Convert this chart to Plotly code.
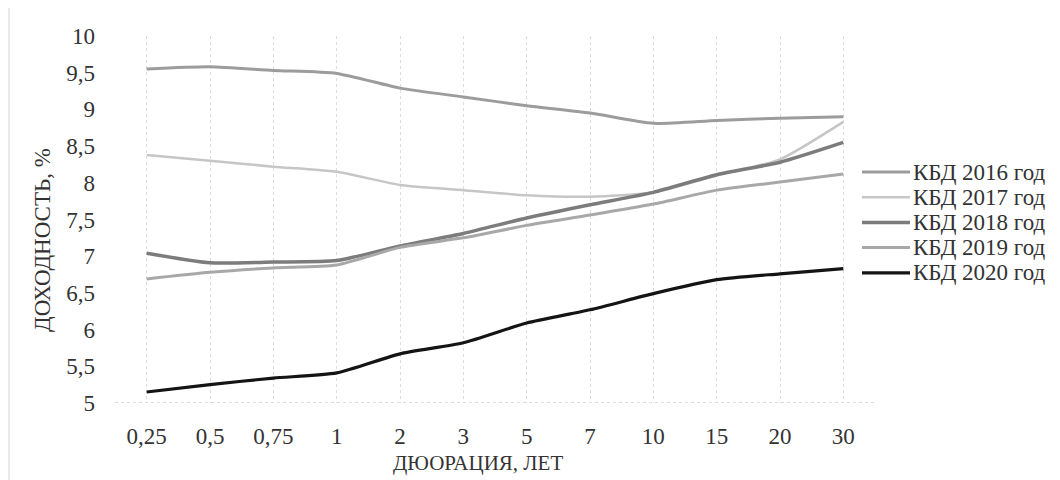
import plotly.graph_objects as go

durations = ["0,25", "0,5", "0,75", "1", "2", "3", "5", "7", "10", "15", "20", "30"]
kbd_2016 = [9.55, 9.58, 9.53, 9.49, 9.29, 9.17, 9.05, 8.95, 8.81, 8.85, 8.88, 8.90]
kbd_2017 = [8.38, 8.30, 8.22, 8.15, 7.97, 7.90, 7.83, 7.81, 7.87, 8.10, 8.32, 8.83]
kbd_2018 = [7.04, 6.91, 6.92, 6.94, 7.14, 7.31, 7.52, 7.70, 7.87, 8.11, 8.28, 8.55]
kbd_2019 = [6.69, 6.78, 6.84, 6.88, 7.12, 7.25, 7.42, 7.56, 7.71, 7.90, 8.01, 8.12]
kbd_2020 = [5.15, 5.25, 5.34, 5.41, 5.67, 5.82, 6.09, 6.27, 6.49, 6.68, 6.76, 6.83]

series_names = ["КБД 2016 год", "КБД 2017 год", "КБД 2018 год", "КБД 2019 год", "КБД 2020 год"]
series_values = [kbd_2016, kbd_2017, kbd_2018, kbd_2019, kbd_2020]
colors = ["#9c9c9c", "#c6c6c6", "#7c7c7c", "#a8a8a8", "#141414"]
widths = [3, 2.5, 3.5, 3, 3.2]

FONT = "Liberation Serif, Times New Roman, serif"
TXT = "#333333"

# plot-area geometry (pixels) used to convert legend layout into paper coords
L, R, T, B, W, H = 115, 185, 36, 77, 1060, 480
PW, PH = W - L - R, H - T - B


def px_x(px):
    return (px - L) / PW


def px_y(py):
    return (H - B - py) / PH


fig = go.Figure()
for name, vals, c, w in zip(series_names, series_values, colors, widths):
    fig.add_trace(go.Scatter(
        x=durations, y=vals, name=name, mode="lines",
        line=dict(color=c, width=w, shape="spline", smoothing=0.6),
        showlegend=False,
    ))

shapes = [
    dict(type="line", xref="paper", yref="y", x0=0, x1=1, y0=5, y1=5,
         line=dict(color="#cfcfcf", width=1.5, dash="dot"), layer="below"),
    dict(type="line", xref="paper", yref="paper", x0=px_x(9), x1=px_x(9), y0=px_y(480), y1=px_y(8),
         line=dict(color="#e2e2e2", width=1.5)),
]
annotations = [
    dict(text="ДЮОРАЦИЯ, ЛЕТ", xref="paper", yref="paper", x=px_x(478), y=px_y(463),
         showarrow=False, font=dict(family=FONT, size=21, color=TXT),
         xanchor="center", yanchor="middle"),
    dict(text="ДОХОДНОСТЬ, %", xref="paper", yref="paper", x=px_x(42), y=px_y(240),
         showarrow=False, textangle=-90, font=dict(family=FONT, size=23, color=TXT),
         xanchor="center", yanchor="middle"),
]

# legend (built from the series lists)
for i, (name, c, w) in enumerate(zip(series_names, colors, widths)):
    ry = 172 + 25.2 * i
    shapes.append(dict(type="line", xref="paper", yref="paper",
                       x0=px_x(862), x1=px_x(910), y0=px_y(ry), y1=px_y(ry),
                       line=dict(color=c, width=w)))
    annotations.append(dict(text=name, xref="paper", yref="paper",
                            x=px_x(911), y=px_y(ry), showarrow=False,
                            xanchor="left", yanchor="middle",
                            font=dict(family=FONT, size=23, color=TXT)))

tickvals = [5 + 0.5 * i for i in range(11)]
ticktext = [("%g" % v).replace(".", ",") for v in tickvals]

fig.update_layout(
    width=W, height=H,
    margin=dict(l=L, r=R, t=T, b=B),
    paper_bgcolor="#ffffff", plot_bgcolor="#ffffff",
    font=dict(family=FONT, color=TXT),
    showlegend=False,
    xaxis=dict(
        type="category", range=[-0.5, 11.5],
        showgrid=True, gridcolor="#dcdcdc", griddash="dot", gridwidth=1,
        showline=False, zeroline=False, ticks="",
        tickfont=dict(family=FONT, size=23, color=TXT),
        ticklabelstandoff=17,
    ),
    yaxis=dict(
        range=[5, 10], tickvals=tickvals, ticktext=ticktext,
        showgrid=False, zeroline=False, showline=False, ticks="",
        tickfont=dict(family=FONT, size=23, color=TXT),
        ticklabelstandoff=19,
    ),
    shapes=shapes,
    annotations=annotations,
)

fig.write_html("out.html")
